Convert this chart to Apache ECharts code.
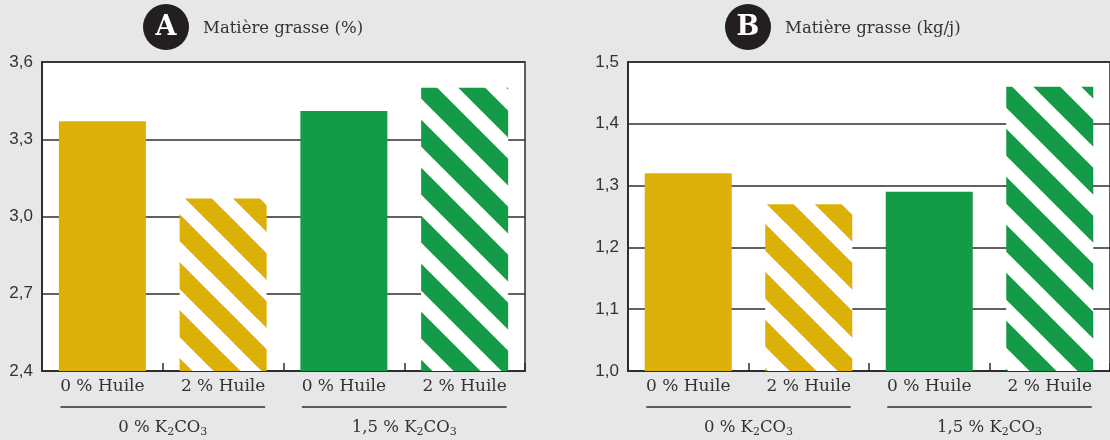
<!DOCTYPE html>
<html><head><meta charset="utf-8">
<script src="https://cdn.jsdelivr.net/npm/echarts@6/dist/echarts.min.js"></script>
<style>html,body{margin:0;padding:0;background:#e6e7e9;}#c{width:1110px;height:440px;}</style>
</head><body><div id="c"></div>
<script>
// ---- data ----
const categories = ['0 % Huile', '2 % Huile', '0 % Huile', '2 % Huile'];
const groupNames = ['0 % ', '1,5 % '];          // followed by K2CO3
const fatPercent = [3.37, 3.07, 3.41, 3.50];    // panel A, Matière grasse (%)
const fatKgDay  = [1.32, 1.27, 1.29, 1.46];     // panel B, Matière grasse (kg/j)
const titleA = 'Matière grasse (%)';
const titleB = 'Matière grasse (kg/j)';
const yA = {min: 2.4, max: 3.6, interval: 0.3};
const yB = {min: 1.0, max: 1.5, interval: 0.1};

// ---- styles ----
const GOLD = '#dcb006', GREEN = '#139b47', DARK = '#2e2e2e';
const SERIF = '"DejaVu Serif", serif';
const SANS = '"Liberation Sans", sans-serif';

function stripes(color) {
  const P = 48, cv = document.createElement('canvas');
  cv.width = P; cv.height = P;
  const g = cv.getContext('2d');
  g.fillStyle = '#ffffff'; g.fillRect(0, 0, P, P);
  g.strokeStyle = color; g.lineWidth = 19; g.lineCap = 'square';
  for (let k = -2; k <= 2; k++) {
    g.beginPath(); g.moveTo(k * P - P, -P); g.lineTo(k * P + 2 * P, 2 * P); g.stroke();
  }
  return {image: cv, repeat: 'repeat'};
}
const fills = [GOLD, stripes(GOLD), GREEN, stripes(GREEN)];

const chart = echarts.init(document.getElementById('c'));
const fmt = v => v.toFixed(1).replace('.', ',');

function xAxis(gi) {
  return {
    type: 'category', gridIndex: gi, data: categories,
    axisLine: {lineStyle: {color: DARK, width: 2}},
    axisTick: {show: true, inside: true, length: 8, lineStyle: {color: DARK, width: 1.5}},
    axisLabel: {color: '#333', fontFamily: SERIF, fontSize: 17, margin: 7, interval: 0}
  };
}
function yAxis(gi, r) {
  return {
    type: 'value', gridIndex: gi, min: r.min, max: r.max, interval: r.interval,
    axisLine: {show: true, lineStyle: {color: DARK, width: 2}},
    axisTick: {show: false},
    splitLine: {show: true, lineStyle: {color: DARK, width: 1.5}},
    axisLabel: {color: '#333', fontFamily: SANS, fontSize: 17, margin: 9, formatter: fmt}
  };
}
function series(gi, vals) {
  return {
    type: 'bar', xAxisIndex: gi, yAxisIndex: gi, barWidth: 87,
    data: vals.map((v, i) => ({value: v, itemStyle: {color: fills[i]}}))
  };
}

chart.setOption({
  backgroundColor: '#e6e7e9',
  animation: false,
  grid: [
    {left: 42, top: 62, width: 483, height: 309, show: true, backgroundColor: '#fff', borderColor: DARK, borderWidth: 1.5},
    {left: 628, top: 62, width: 483, height: 309, show: true, backgroundColor: '#fff', borderColor: DARK, borderWidth: 1.5}
  ],
  xAxis: [xAxis(0), xAxis(1)],
  yAxis: [yAxis(0, yA), yAxis(1, yB)],
  series: [series(0, fatPercent), series(1, fatKgDay)]
});

// group labels and header badges
const els = [];
function badge(cx, letter, title) {
  els.push({type: 'circle', shape: {cx: cx, cy: 27, r: 23}, style: {fill: '#231f20'}});
  els.push({type: 'text', x: cx, y: 28, style: {text: letter, fill: '#fff', font: 'bold 27px ' + SERIF, align: 'center', verticalAlign: 'middle'}});
  els.push({type: 'text', x: cx + 37, y: 29, style: {text: title, fill: '#333', font: '16.5px ' + SERIF, align: 'left', verticalAlign: 'middle'}});
}
badge(166, 'A', titleA);
badge(748, 'B', titleB);

[0, 1].forEach(gi => {
  for (let g = 0; g < 2; g++) {
    const p0 = chart.convertToPixel({xAxisIndex: gi}, 2 * g);
    const p1 = chart.convertToPixel({xAxisIndex: gi}, 2 * g + 1);
    const x0 = p0 - 42, x1 = p1 + 42;
    els.push({type: 'line', shape: {x1: x0, y1: 407, x2: x1, y2: 407}, style: {stroke: DARK, lineWidth: 1.5}});
    els.push({type: 'text', x: (x0 + x1) / 2, y: 428, style: {
      text: '{n|' + groupNames[g] + 'K}{s|2}{n|CO}{s|3}',
      align: 'center', verticalAlign: 'middle',
      rich: {
        n: {fill: '#333', fontFamily: SERIF, fontSize: 16.5, lineHeight: 20, verticalAlign: 'middle'},
        s: {fill: '#333', fontFamily: SERIF, fontSize: 11, lineHeight: 20, verticalAlign: 'bottom'}
      }
    }});
  }
});
chart.setOption({graphic: {elements: els}});
</script></body></html>
